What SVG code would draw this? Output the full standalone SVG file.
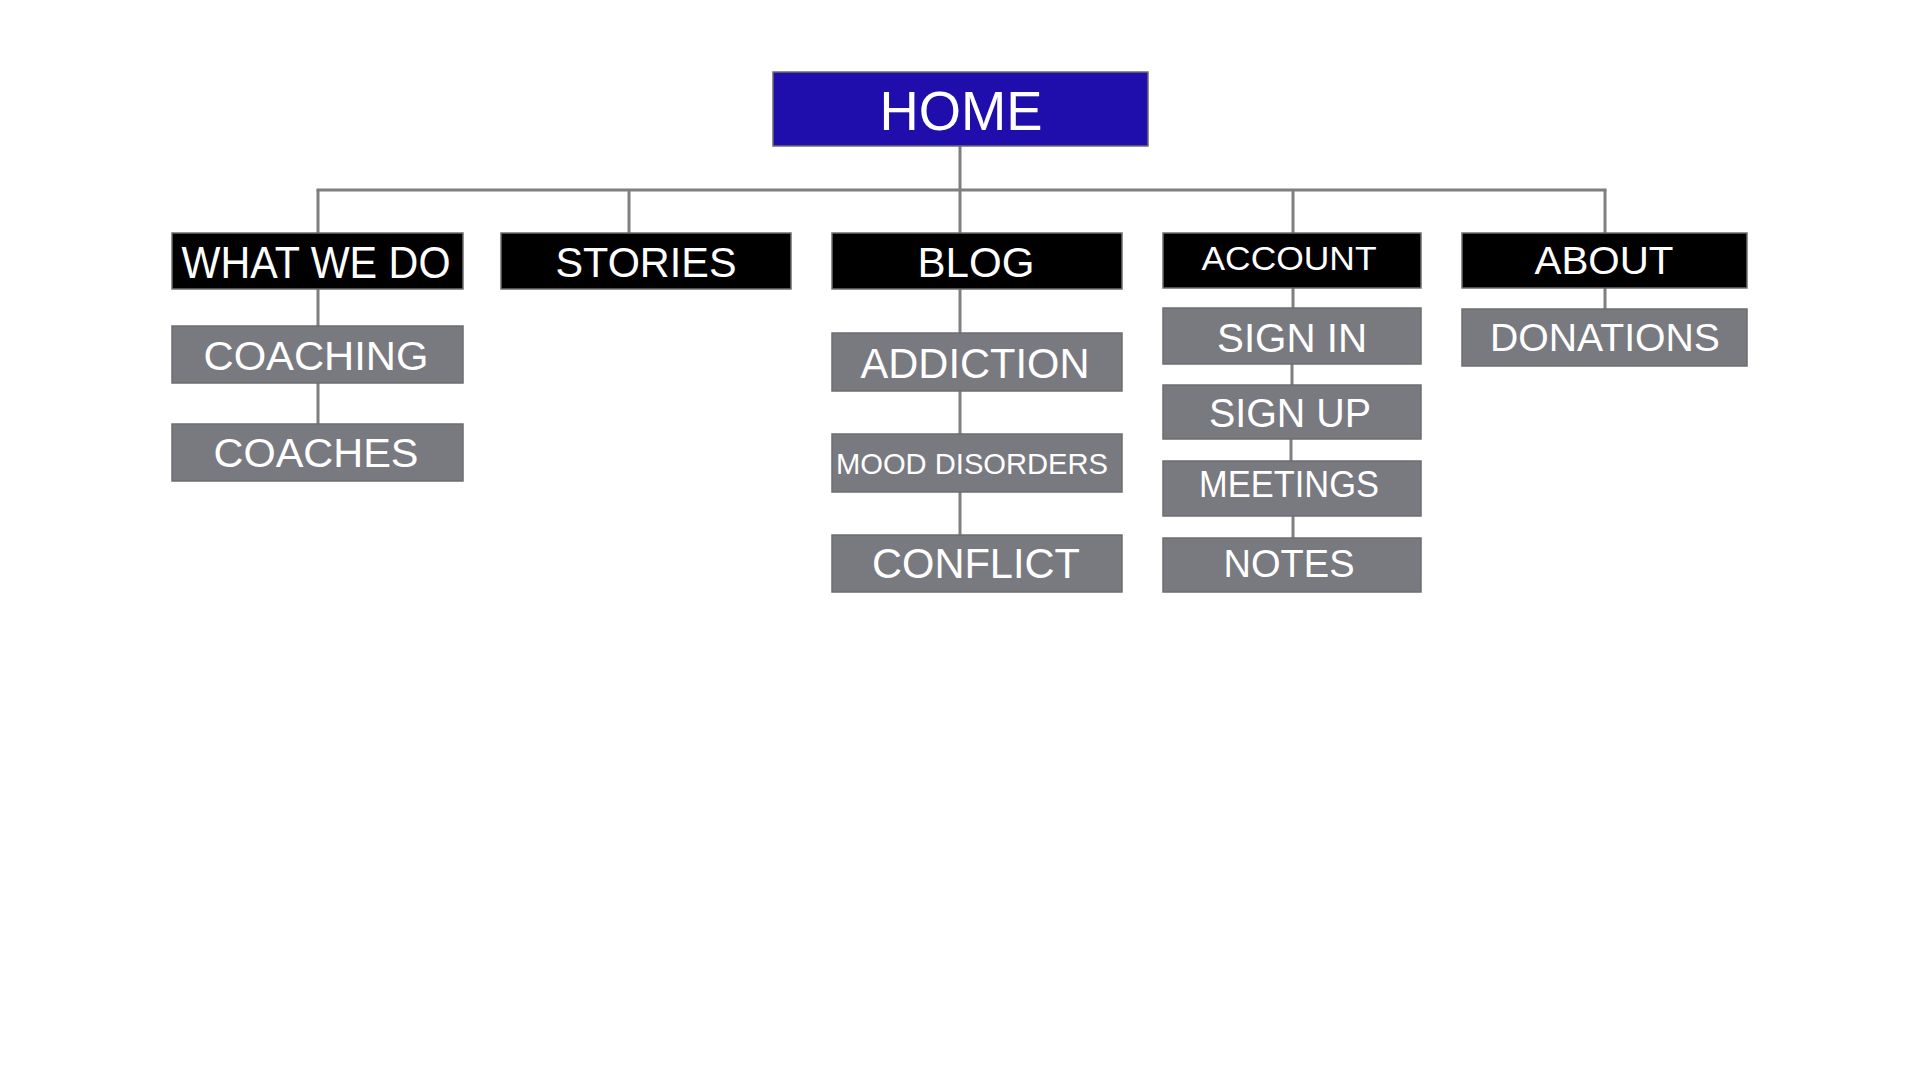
<svg xmlns="http://www.w3.org/2000/svg" width="1920" height="1080" viewBox="0 0 1920 1080">
<style>
.home{fill:#1f0eab;stroke:#6e6e6e;stroke-width:1.5}
.top{fill:#000;stroke:#6e6e6e;stroke-width:1.5}
.sub{fill:#797980;stroke:#6e6e6e;stroke-width:1.5}
text{font-family:"Liberation Sans",Arial,sans-serif;fill:#fff;text-anchor:middle}
.conn{stroke:#7f7f7f;stroke-width:3;fill:none}
</style>
<rect width="1920" height="1080" fill="#fff"/>
<g id="connectors">
<line class="conn" x1="960" y1="146" x2="960" y2="190"/>
<line class="conn" x1="316.5" y1="190" x2="1606.5" y2="190"/>
<line class="conn" x1="318" y1="190" x2="318" y2="233"/>
<line class="conn" x1="629" y1="190" x2="629" y2="233"/>
<line class="conn" x1="960" y1="190" x2="960" y2="233"/>
<line class="conn" x1="1293" y1="190" x2="1293" y2="233"/>
<line class="conn" x1="1605" y1="190" x2="1605" y2="233"/>
<line class="conn" x1="318" y1="289" x2="318" y2="326"/>
<line class="conn" x1="318" y1="383" x2="318" y2="424"/>
<line class="conn" x1="960" y1="289" x2="960" y2="333"/>
<line class="conn" x1="960" y1="391" x2="960" y2="434"/>
<line class="conn" x1="960" y1="492" x2="960" y2="535"/>
<line class="conn" x1="1293" y1="288" x2="1293" y2="308"/>
<line class="conn" x1="1292" y1="364" x2="1292" y2="385"/>
<line class="conn" x1="1291" y1="439" x2="1291" y2="461"/>
<line class="conn" x1="1293" y1="516" x2="1293" y2="538"/>
<line class="conn" x1="1605" y1="288" x2="1605" y2="309"/>
</g>
<g id="home"><rect class="home" x="773" y="72" width="375" height="74"/><text x="961" y="130" font-size="56" textLength="163" lengthAdjust="spacingAndGlyphs">HOME</text></g>
<g id="what-we-do"><rect class="top" x="172" y="233" width="291" height="56"/><text x="316" y="278" font-size="45" textLength="269" lengthAdjust="spacingAndGlyphs">WHAT WE DO</text></g>
<g id="coaching"><rect class="sub" x="172" y="326" width="291" height="57"/><text x="316" y="370" font-size="40" textLength="225" lengthAdjust="spacingAndGlyphs">COACHING</text></g>
<g id="coaches"><rect class="sub" x="172" y="424" width="291" height="57"/><text x="316" y="467" font-size="40" textLength="205" lengthAdjust="spacingAndGlyphs">COACHES</text></g>
<g id="stories"><rect class="top" x="501" y="233" width="290" height="56"/><text x="646" y="277" font-size="42" textLength="181" lengthAdjust="spacingAndGlyphs">STORIES</text></g>
<g id="blog"><rect class="top" x="832" y="233" width="290" height="56"/><text x="976" y="277" font-size="42" textLength="117" lengthAdjust="spacingAndGlyphs">BLOG</text></g>
<g id="addiction"><rect class="sub" x="832" y="333" width="290" height="58"/><text x="975" y="378" font-size="42" textLength="229" lengthAdjust="spacingAndGlyphs">ADDICTION</text></g>
<g id="mood-disorders"><rect class="sub" x="832" y="434" width="290" height="58"/><text x="972" y="474" font-size="30" textLength="272" lengthAdjust="spacingAndGlyphs">MOOD DISORDERS</text></g>
<g id="conflict"><rect class="sub" x="832" y="535" width="290" height="57"/><text x="976" y="578" font-size="42" textLength="208" lengthAdjust="spacingAndGlyphs">CONFLICT</text></g>
<g id="account"><rect class="top" x="1163" y="233" width="258" height="55"/><text x="1289" y="270" font-size="34" textLength="175" lengthAdjust="spacingAndGlyphs">ACCOUNT</text></g>
<g id="sign-in"><rect class="sub" x="1163" y="308" width="258" height="56"/><text x="1292" y="352" font-size="40" textLength="150" lengthAdjust="spacingAndGlyphs">SIGN IN</text></g>
<g id="sign-up"><rect class="sub" x="1163" y="385" width="258" height="54"/><text x="1290" y="427" font-size="40" textLength="162" lengthAdjust="spacingAndGlyphs">SIGN UP</text></g>
<g id="meetings"><rect class="sub" x="1163" y="461" width="258" height="55"/><text x="1289" y="497" font-size="36" textLength="180" lengthAdjust="spacingAndGlyphs">MEETINGS</text></g>
<g id="notes"><rect class="sub" x="1163" y="538" width="258" height="54"/><text x="1289" y="577" font-size="38" textLength="131" lengthAdjust="spacingAndGlyphs">NOTES</text></g>
<g id="about"><rect class="top" x="1462" y="233" width="285" height="55"/><text x="1604" y="274" font-size="39" textLength="139" lengthAdjust="spacingAndGlyphs">ABOUT</text></g>
<g id="donations"><rect class="sub" x="1462" y="309" width="285" height="57"/><text x="1605" y="351" font-size="39" textLength="230" lengthAdjust="spacingAndGlyphs">DONATIONS</text></g>
</svg>
